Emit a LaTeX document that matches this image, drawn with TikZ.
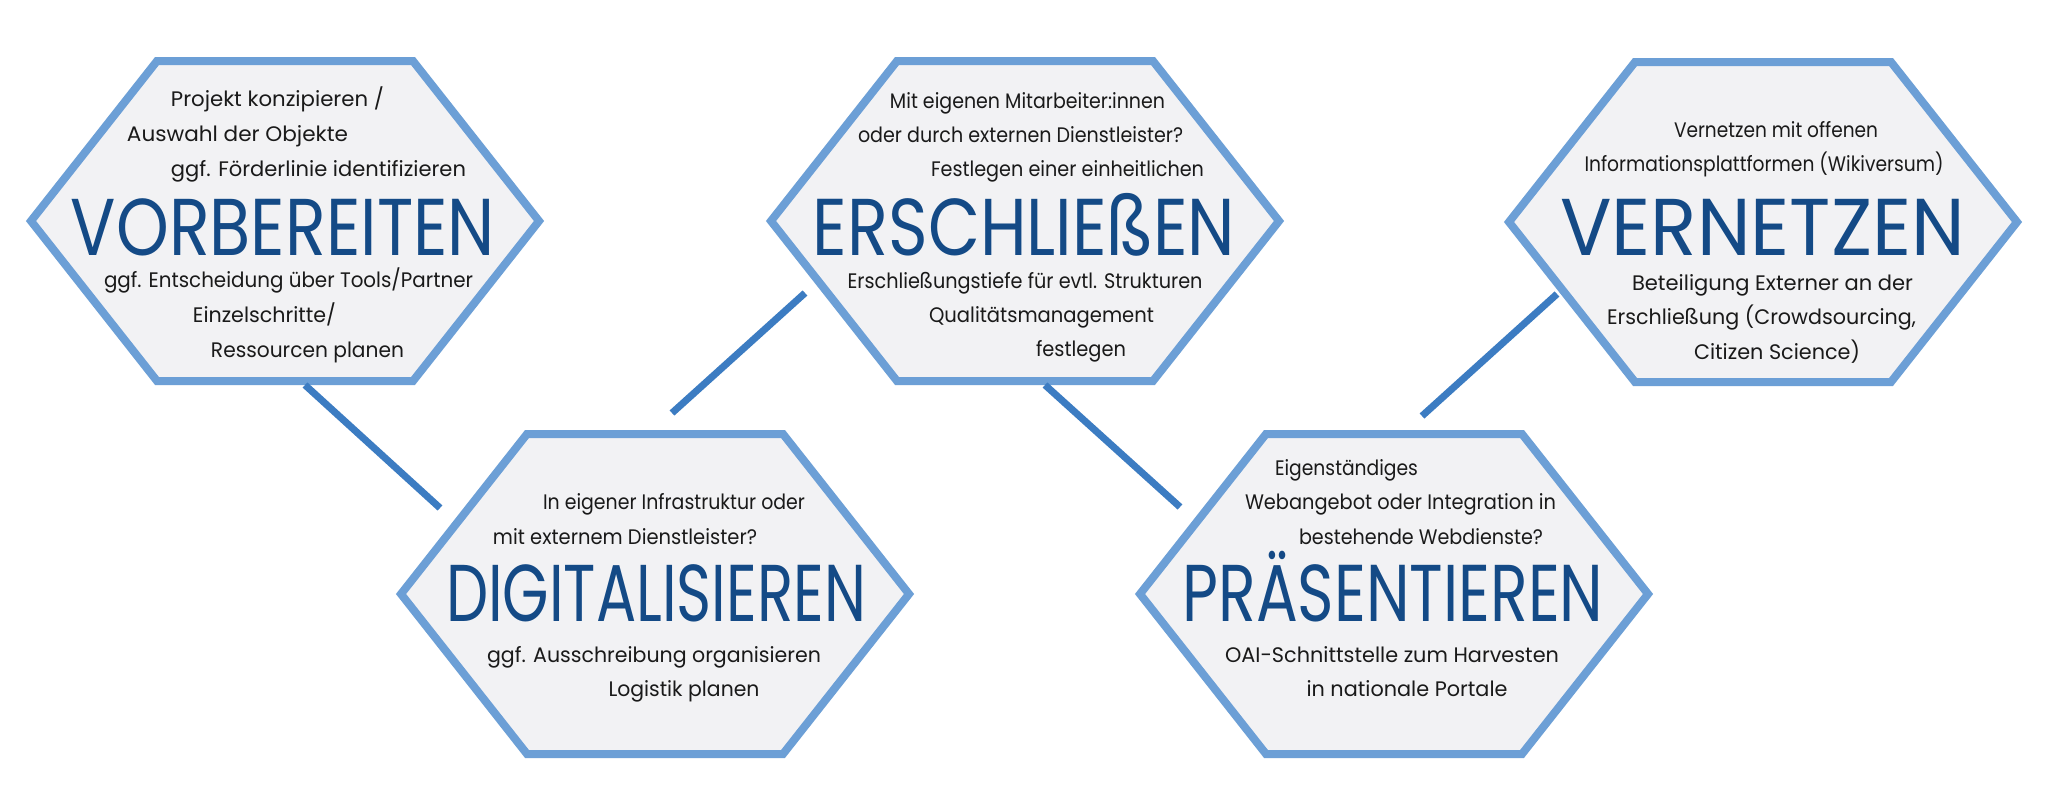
\documentclass[tikz,border=0pt]{standalone}
\usepackage{graphicx}
\usepackage{fontspec}
\setmainfont{Poppins}
\definecolor{hexline}{HTML}{6C9FD6}
\definecolor{hexfill}{HTML}{F2F2F4}
\definecolor{linkblue}{HTML}{3C7CC2}
\definecolor{titleblue}{HTML}{144A86}
\definecolor{bodytext}{HTML}{1A1A1A}
% set a line of text to a given width (in pt), keeping its height
\newcommand\fitline[2]{\resizebox{#1pt}{\height}{#2}}
% headline: given width, taller caps
\newcommand\fithead[2]{\resizebox{#1pt}{1.3\height}{#2}}
\begin{document}
\begin{tikzpicture}[x=1pt,y=-1pt,
  hexa/.style={draw=hexline, fill=hexfill, line width=8pt, line join=miter},
  linkline/.style={draw=linkblue, line width=7pt},
  note/.style={anchor=base, inner sep=0pt, text=bodytext, font=\fontsize{21}{23}\selectfont},
  head/.style={anchor=base, inner sep=0pt, text=titleblue, font=\fontsize{62}{62}\selectfont},
  hexcell/.pic={\path[hexa] (-254,0) -- (-128,-160) -- (128,-160) -- (254,0) -- (128,160) -- (-128,160) -- cycle;}
]
\fill[white] (0,0) rectangle (2048,785);
\useasboundingbox (0,0) rectangle (2048,785);

% hexagon cells
\pic at (285,221) {hexcell};
\pic at (655,594) {hexcell};
\pic at (1025,221) {hexcell};
\pic at (1394,594) {hexcell};
\pic at (1763,222) {hexcell};

% connector end points
\coordinate (l1a) at (305,385);  \coordinate (l1b) at (440,508);
\coordinate (l2a) at (672,413);  \coordinate (l2b) at (805,293);
\coordinate (l3a) at (1045,385); \coordinate (l3b) at (1180,507);
\coordinate (l4a) at (1422,416); \coordinate (l4b) at (1557,294);
\draw[linkline] (l1a) -- (l1b);
\draw[linkline] (l2a) -- (l2b);
\draw[linkline] (l3a) -- (l3b);
\draw[linkline] (l4a) -- (l4b);

% VORBEREITEN
\node[note] (v1) at (277.5,106) {\fitline{213}{Projekt konzipieren /}};
\node[note] (v2) at (237.5,141) {\fitline{221}{Auswahl der Objekte}};
\node[note] (v3) at (318.5,176) {\fitline{295}{ggf. Förderlinie identifizieren}};
\node[head] (vt) at (283,255) {\fithead{424}{VORBEREITEN}};
\node[note] (v4) at (288.5,287.5) {\fitline{369}{ggf. Entscheidung über Tools/Partner}};
\node[note] (v5) at (264.5,322) {\fitline{143}{Einzelschritte/}};
\node[note] (v6) at (307.5,357) {\fitline{193}{Ressourcen planen}};

% ERSCHLIESSEN
\node[note] (e1) at (1027.5,108) {\fitline{275}{Mit eigenen Mitarbeiter:innen}};
\node[note] (e2) at (1020.5,142) {\fitline{325}{oder durch externen Dienstleister?}};
\node[note] (e3) at (1067.5,176) {\fitline{273}{Festlegen einer einheitlichen}};
\node[head] (et) at (1024,255) {\fithead{422}{ERSCHLIEßEN}};
\node[note] (e4) at (1025,288) {\fitline{355}{Erschließungstiefe für evtl. Strukturen}};
\node[note] (e5) at (1041.5,322) {\fitline{225}{Qualitätsmanagement}};
\node[note] (e6) at (1081,356) {\fitline{90}{festlegen}};

% VERNETZEN
\node[note] (n1) at (1776,137) {\fitline{204}{Vernetzen mit offenen}};
\node[note] (n2) at (1764,171) {\fitline{359}{Informationsplattformen (Wikiversum)}};
\node[head] (nt) at (1762.5,255) {\fithead{405}{VERNETZEN}};
\node[note] (n3) at (1772.5,290) {\fitline{281}{Beteiligung Externer an der}};
\node[note] (n4) at (1761.5,324) {\fitline{309}{Erschließung (Crowdsourcing,}};
\node[note] (n5) at (1777,359) {\fitline{166}{Citizen Science)}};

% DIGITALISIEREN
\node[note] (d1) at (674,509) {\fitline{262}{In eigener Infrastruktur oder}};
\node[note] (d2) at (625,544.5) {\fitline{264}{mit externem Dienstleister?}};
\node[head] (dt) at (656,621) {\fithead{420}{DIGITALISIEREN}};
\node[note] (d3) at (654,662.5) {\fitline{334}{ggf. Ausschreibung organisieren}};
\node[note] (d4) at (684,696) {\fitline{151}{Logistik planen}};

% PRAESENTIEREN
\node[note] (p1) at (1346.5,475) {\fitline{143}{Eigenständiges}};
\node[note] (p2) at (1400.5,509) {\fitline{311}{Webangebot oder Integration in}};
\node[note] (p3) at (1421,544.5) {\fitline{244}{bestehende Webdienste?}};
\node[head] (pt) at (1393,621) {\fithead{421}{PRÄSENTIEREN}};
\node[note] (p4) at (1392,662.5) {\fitline{334}{OAI-Schnittstelle zum Harvesten}};
\node[note] (p5) at (1407,696) {\fitline{201}{in nationale Portale}};
\end{tikzpicture}
\end{document}
